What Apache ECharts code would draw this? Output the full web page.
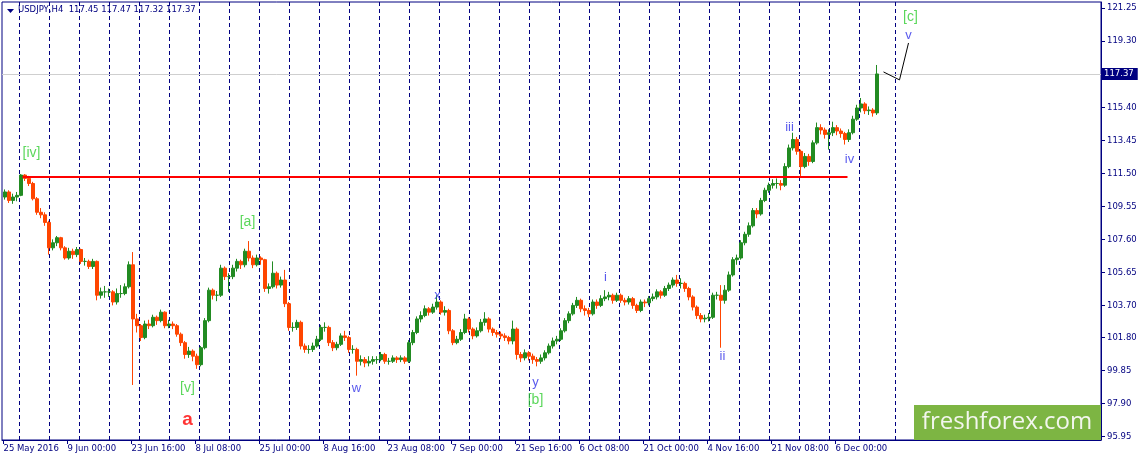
<!DOCTYPE html>
<html>
<head>
<meta charset="utf-8">
<title>USDJPY,H4</title>
<script src="https://cdn.jsdelivr.net/npm/echarts@6/dist/echarts.min.js"></script>
<style>
    html, body { margin: 0; padding: 0; background: #fff; }
    #chart { width: 1140px; height: 461px; }
</style>
</head>
<body>
<div id="chart"></div>
<script type="text/javascript">
    // each candle below groups 4 H4 bars; x axis is counted in H4 bars from 25 May 2016
    var barsPerCandle = 4;

    var opens = [
        110.10,110.40,109.90,110.10,110.20,111.40,111.20,110.90,110.00,109.20,
        109.05,108.60,107.10,107.40,107.70,107.10,106.50,106.90,106.70,107.00,
        106.30,106.30,106.00,106.30,104.30,104.50,104.50,104.50,103.90,104.40,
        104.40,104.80,106.10,102.90,102.50,101.80,102.60,102.50,103.00,102.80,
        103.30,102.50,102.60,102.50,102.00,101.50,100.80,101.00,100.70,100.20,
        101.20,102.80,104.60,104.30,104.30,105.90,105.40,105.40,105.90,106.30,
        106.10,106.90,106.50,106.10,106.50,106.40,104.70,104.80,105.60,104.90,
        105.20,103.80,102.40,102.40,102.70,101.30,101.10,101.10,101.30,101.70,
        102.40,102.40,101.50,101.20,101.40,101.90,101.80,101.10,101.10,100.40,
        100.50,100.30,100.40,100.50,100.50,100.80,100.40,100.40,100.60,100.50,
        100.60,100.40,101.50,102.10,102.90,103.10,103.50,103.30,103.60,103.90,
        103.30,103.40,102.20,101.50,101.70,102.10,102.90,102.30,101.90,102.20,
        102.70,102.90,102.30,102.10,102.00,101.90,101.80,101.60,102.30,100.80,
        100.60,100.90,100.70,100.50,100.40,100.60,100.90,101.30,101.60,101.70,
        102.20,102.80,103.20,103.70,104.00,103.50,103.40,103.20,103.90,103.70,
        104.10,104.20,104.30,104.00,104.30,104.00,103.90,104.10,103.70,103.40,
        103.90,103.85,104.10,104.20,104.50,104.30,104.70,104.90,105.20,105.00,
        105.00,104.70,104.20,103.60,103.10,102.90,102.95,103.00,104.30,104.30,
        104.00,104.60,105.50,106.40,106.50,107.40,107.90,108.40,109.30,109.10,
        109.90,110.50,110.80,110.90,110.90,110.80,111.90,113.00,113.50,112.80,
        111.90,112.50,112.20,113.30,114.20,114.06,113.80,113.90,114.20,114.00,
        113.85,113.50,113.90,114.70,115.36,115.60,115.20,115.24,115.07
    ];
    var closes = [
        110.40,109.90,110.10,110.20,111.40,111.20,110.90,110.00,109.20,109.05,
        108.60,107.10,107.40,107.70,107.10,106.50,106.90,106.70,107.00,106.30,
        106.30,106.00,106.30,104.30,104.50,104.50,104.50,103.90,104.40,104.40,
        104.80,106.10,102.90,102.50,101.80,102.60,102.50,103.00,102.80,103.30,
        102.50,102.60,102.50,102.00,101.50,100.80,101.00,100.70,100.20,101.20,
        102.80,104.60,104.30,104.30,105.90,105.40,105.40,105.90,106.30,106.10,
        106.90,106.50,106.10,106.50,106.40,104.70,104.80,105.60,104.90,105.20,
        103.80,102.40,102.40,102.70,101.30,101.10,101.10,101.30,101.70,102.40,
        102.40,101.50,101.20,101.40,101.90,101.80,101.10,101.10,100.40,100.50,
        100.30,100.40,100.50,100.50,100.80,100.40,100.40,100.60,100.50,100.60,
        100.40,101.50,102.10,102.90,103.10,103.50,103.30,103.60,103.90,103.30,
        103.40,102.20,101.50,101.70,102.10,102.90,102.30,101.90,102.20,102.70,
        102.90,102.30,102.10,102.00,101.90,101.80,101.60,102.30,100.80,100.60,
        100.90,100.70,100.50,100.40,100.60,100.90,101.30,101.60,101.70,102.20,
        102.80,103.20,103.70,104.00,103.50,103.40,103.20,103.90,103.70,104.10,
        104.20,104.30,104.00,104.30,104.00,103.90,104.10,103.70,103.40,103.90,
        103.85,104.10,104.20,104.50,104.30,104.70,104.90,105.20,105.00,105.00,
        104.70,104.20,103.60,103.10,102.90,102.95,103.00,104.30,104.30,104.00,
        104.60,105.50,106.40,106.50,107.40,107.90,108.40,109.30,109.10,109.90,
        110.50,110.80,110.90,110.90,110.80,111.90,113.00,113.50,112.80,111.90,
        112.50,112.20,113.30,114.20,114.06,113.80,113.90,114.20,114.00,113.85,
        113.50,113.90,114.70,115.36,115.60,115.20,115.24,115.07,117.37
    ];
    var lows = [
        109.95,109.75,109.70,109.85,110.15,111.05,110.75,109.90,109.05,108.85,
        108.40,106.70,106.95,107.20,106.95,106.40,106.40,106.45,106.55,106.15,
        106.05,105.85,105.85,104.00,104.10,104.15,104.20,103.70,103.75,104.15,
        104.30,104.70,99.00,102.10,101.60,101.70,102.30,102.40,102.55,102.70,
        102.35,102.35,102.30,101.85,101.30,100.55,100.60,100.40,99.95,100.10,
        101.10,102.70,104.05,103.95,104.20,105.20,104.50,105.25,105.70,105.85,
        105.95,106.30,105.90,106.00,106.10,104.50,104.40,104.70,104.70,104.75,
        103.60,102.20,102.15,102.25,101.10,100.90,100.85,100.95,101.20,101.60,
        102.15,101.30,101.00,101.05,101.30,101.60,100.90,100.85,99.55,100.15,
        100.05,100.10,100.20,100.25,100.40,100.25,100.20,100.30,100.30,100.35,
        100.25,100.30,101.35,102.00,102.70,103.00,103.10,103.20,103.45,103.15,
        103.10,102.00,101.35,101.40,101.60,102.00,102.10,101.70,101.80,102.10,
        102.50,102.10,101.90,101.80,101.70,101.60,101.40,101.40,100.50,100.35,
        100.45,100.45,100.25,100.10,100.25,100.45,100.80,101.15,101.40,101.60,
        102.10,102.65,103.10,103.55,103.30,103.10,103.00,103.10,103.50,103.60,
        103.95,104.00,103.80,103.90,103.85,103.70,103.75,103.50,103.25,103.30,
        103.60,103.70,103.95,104.05,104.10,104.20,104.55,104.75,104.80,104.70,
        104.50,104.00,103.40,102.90,102.70,102.70,102.75,102.90,104.05,101.20,
        103.80,104.50,105.40,106.10,106.40,107.25,107.75,108.30,108.85,109.00,
        109.80,110.35,110.60,110.60,110.50,110.70,111.80,112.85,112.60,111.30,
        111.80,111.95,112.10,113.20,113.80,113.55,112.90,113.70,113.75,113.60,
        113.20,113.35,113.80,114.60,115.10,115.00,114.95,114.85,114.95
    ];
    var highs = [
        110.55,110.50,110.30,110.40,111.45,111.45,111.35,111.00,110.10,109.45,
        109.20,108.70,107.60,107.80,107.75,107.20,107.10,107.05,107.15,107.05,
        106.50,106.40,106.45,106.35,104.75,104.85,104.70,104.60,104.70,104.90,
        105.00,106.30,106.85,103.20,102.60,102.80,102.85,103.15,103.10,103.45,
        103.35,102.85,102.75,102.60,102.10,101.60,101.25,101.10,100.85,101.30,
        102.95,104.75,104.70,104.55,106.10,106.00,105.60,106.10,106.45,106.40,
        107.05,107.50,106.65,106.70,106.60,106.45,105.00,106.30,105.70,105.40,
        105.80,103.90,102.70,102.85,102.80,101.45,101.35,101.50,101.90,102.55,
        102.70,102.50,101.65,101.55,102.05,102.20,101.90,101.35,101.20,100.75,
        100.65,100.70,100.70,100.70,100.95,100.90,100.60,100.75,100.70,100.75,
        100.70,101.65,102.25,103.05,103.35,103.70,103.60,103.80,104.30,104.00,
        103.65,103.50,102.30,101.90,102.30,103.20,103.00,102.40,102.40,102.90,
        103.30,103.00,102.40,102.25,102.15,102.05,101.90,102.80,102.40,100.95,
        101.10,101.00,100.85,100.65,100.80,101.05,101.45,101.80,101.90,102.35,
        102.95,103.35,103.85,104.20,104.10,103.70,103.55,104.05,104.05,104.30,
        104.60,104.50,104.40,104.45,104.40,104.15,104.25,104.20,103.80,104.05,
        104.05,104.25,104.40,104.65,104.60,104.85,105.05,105.35,105.50,105.30,
        105.10,104.80,104.30,103.70,103.25,103.15,103.25,104.45,104.50,104.90,
        104.90,105.70,106.55,106.70,107.55,108.05,108.60,109.45,109.45,110.05,
        110.65,110.95,111.15,111.20,111.10,112.10,113.20,113.90,113.65,112.90,
        112.70,112.65,113.45,114.50,114.40,114.20,114.10,114.55,114.35,114.15,
        113.95,114.10,114.90,115.55,115.95,115.70,115.45,115.35,117.90
    ];

    // last H4 bar shown in the header: open, high, low, close
    var lastBar = [117.45, 117.47, 117.32, 117.37];

    // time labels, one every 64 H4 bars
    var timeLabels = ['25 May 2016', '9 Jun 00:00', '23 Jun 16:00', '8 Jul 08:00', '25 Jul 00:00',
        '8 Aug 16:00', '23 Aug 08:00', '7 Sep 00:00', '21 Sep 16:00', '6 Oct 08:00',
        '21 Oct 00:00', '4 Nov 16:00', '21 Nov 08:00', '6 Dec 00:00'];
    var barsPerLabel = 64;

    var priceTicks = [95.95, 97.90, 99.85, 101.80, 103.70, 105.65, 107.60, 109.55,
        111.50, 113.45, 115.40, 117.35, 119.30, 121.25];

    // weekly separators (Monday 00:00), in H4 bars
    var weekStarts = [];
    for (var w = 16; w <= 856; w += 30) { weekStarts.push(w); }
    weekStarts.push(892);

    // [bar, price] of the horizontal level and of the projected wave
    var resistance = [[19, 111.30], [844, 111.30]];
    var projection = [[880, 117.49], [896, 117.02], [905, 119.20]];

    // wave marks: text, bar, price
    var greenLabels = [['[iv]', 28, 112.70], ['[a]', 244, 108.63], ['[v]', 184, 98.82],
        ['[b]', 532, 98.12], ['[c]', 907, 120.74]];
    var blueLabels = [['w', 353, 98.82], ['x', 434, 104.26], ['y', 532, 99.18], ['i', 602, 105.38],
        ['ii', 719, 100.66], ['iii', 786, 114.24], ['iv', 846, 112.35], ['v', 905, 119.67]];
    var redLabels = [['a', 184, 96.94]];

    var NAVY = '#000080';
    var AXIS_FONT = 'DejaVu Sans';
    var TEXT_FONT = 'Liberation Sans';
    var lastClose = closes[closes.length - 1];

    var candles = [];
    for (var k = 0; k < closes.length; k++) {
        candles.push([k * barsPerCandle + (barsPerCandle - 1) / 2, opens[k], closes[k], lows[k], highs[k]]);
    }

    function toMarks(list) {
        return list.map(function (m) { return {name: m[0], value: [m[1], m[2]]}; });
    }

    function markSeries(list, color, size, weight) {
        return {
            type: 'scatter',
            data: toMarks(list),
            symbolSize: 1,
            itemStyle: {color: 'rgba(0,0,0,0)'},
            silent: true,
            z: 6,
            label: {
                show: true, position: 'inside', formatter: '{b}',
                color: color, fontSize: size, fontWeight: weight, fontFamily: TEXT_FONT
            }
        };
    }

    var chart = echarts.init(document.getElementById('chart'));
    chart.setOption({
        animation: false,
        backgroundColor: '#fff',
        grid: {
            left: 2, right: 39, top: 2, bottom: 21,
            show: true, borderColor: NAVY, borderWidth: 1, backgroundColor: '#fff',
            outerBoundsMode: 'none'
        },
        xAxis: {
            type: 'value', min: -1.5, max: 1097.5,
            axisLine: {show: true, onZero: false, lineStyle: {color: NAVY}},
            axisTick: {
                show: true, length: 4, lineStyle: {color: NAVY},
                customValues: timeLabels.map(function (s, i) { return i * barsPerLabel; })
            },
            axisLabel: {
                customValues: timeLabels.map(function (s, i) { return i * barsPerLabel; }),
                formatter: function (v) { return timeLabels[Math.round(v / barsPerLabel)]; },
                align: 'left', color: NAVY, fontFamily: AXIS_FONT, fontSize: 8.5, margin: 4
            },
            splitLine: {show: false}
        },
        yAxis: {
            type: 'value', position: 'right', min: 95.75, max: 121.62,
            axisLine: {show: true, onZero: false, lineStyle: {color: NAVY}},
            axisTick: {show: true, length: 4, lineStyle: {color: NAVY}, customValues: priceTicks},
            axisLabel: {
                customValues: priceTicks.filter(function (v) { return Math.abs(v - lastClose) > 0.5; }),
                formatter: function (v) { return v.toFixed(2); },
                color: NAVY, fontFamily: AXIS_FONT, fontSize: 8.5, margin: 6
            },
            splitLine: {show: false}
        },
        series: [
            {
                name: 'separators',
                type: 'line',
                data: [],
                silent: true,
                markLine: {
                    silent: true, symbol: 'none', z: 1, animation: false,
                    label: {show: false},
                    lineStyle: {color: NAVY, type: [4, 3], width: 1},
                    data: weekStarts.map(function (u) { return {xAxis: u}; }).concat([{
                        yAxis: lastClose,
                        lineStyle: {color: '#cfcfcf', type: 'solid', width: 1},
                        label: {
                            show: true, position: 'end', distance: 0,
                            formatter: lastClose.toFixed(2),
                            color: '#fff', backgroundColor: NAVY, padding: [2, 4, 1, 3],
                            fontFamily: AXIS_FONT, fontSize: 8.5
                        }
                    }])
                }
            },
            {
                name: 'USDJPY,H4',
                type: 'candlestick',
                data: candles,
                barWidth: 4,
                z: 2,
                itemStyle: {
                    color: '#228b22', color0: '#ff4500',
                    borderColor: '#228b22', borderColor0: '#ff4500',
                    borderColorDoji: '#228b22', borderWidth: 1
                }
            },
            {
                name: 'projection',
                type: 'line',
                data: projection,
                symbol: 'none',
                z: 3,
                lineStyle: {color: '#000', width: 1},
                markLine: {
                    silent: true, symbol: 'none', z: 3, animation: false,
                    label: {show: false},
                    data: [[{coord: resistance[0]}, {coord: resistance[1]}]],
                    lineStyle: {color: '#ff0000', type: 'solid', width: 2}
                }
            },
            markSeries(greenLabels, '#32cd32', 14, 'normal'),
            markSeries(blueLabels, '#3030e8', 13, 'normal'),
            markSeries(redLabels, '#ff0000', 19, 'bold')
        ],
        graphic: [
            {
                type: 'polygon', silent: true,
                shape: {points: [[7, 9], [14, 9], [10.5, 13]]},
                style: {fill: NAVY}
            },
            {
                type: 'text', left: 18, top: 5, silent: true,
                style: {
                    text: 'USDJPY,H4  ' + lastBar.map(function (v) { return v.toFixed(2); }).join(' '),
                    fill: NAVY, font: '8.5px "DejaVu Sans"'
                }
            },
            {
                type: 'rect', silent: true, z: 10,
                shape: {x: 914, y: 405, width: 187, height: 35},
                style: {fill: '#7db543'}
            },
            {
                type: 'text', silent: true, z: 11,
                x: 1007, y: 422,
                style: {
                    text: 'freshforex.com', fill: '#f3f6ee',
                    font: '24px "Open Sans"', align: 'center', verticalAlign: 'middle'
                }
            }
        ]
    });
</script>
</body>
</html>
